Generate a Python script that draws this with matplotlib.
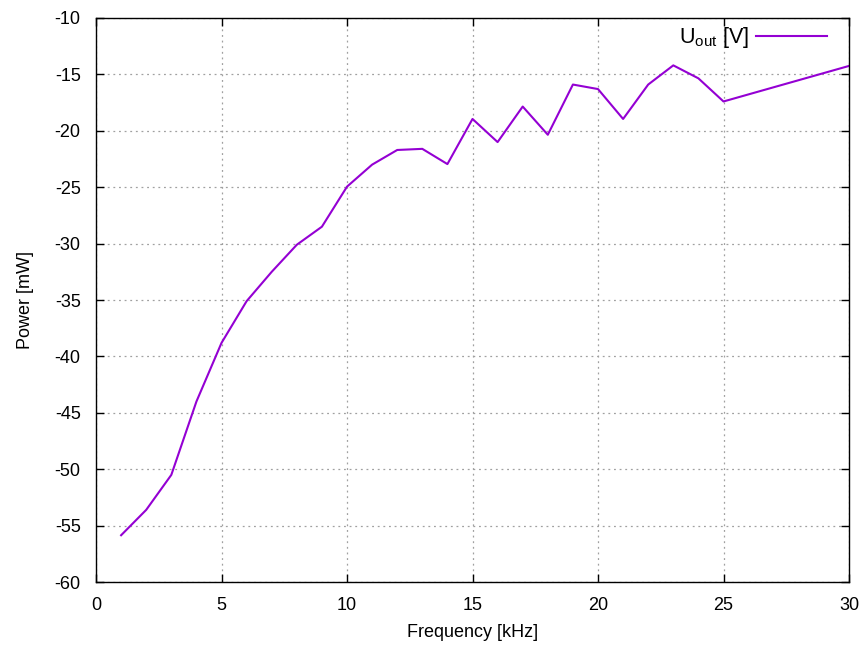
import numpy as np
import matplotlib.pyplot as plt

# frecuencia en kHz y potencia medida
freq = [1, 2, 3, 4, 5, 6, 7, 8, 9, 10, 11, 12, 13, 14, 15, 16, 17, 18, 19, 20, 21, 22, 23, 24, 25, 30]
power = [-55.85, -53.6, -50.5, -44.0, -38.8, -35.1, -32.5, -30.1, -28.5, -24.95, -23.0, -21.7, -21.6,
         -22.95, -18.95, -21.0, -17.85, -20.35, -15.9, -16.3, -18.95, -15.9, -14.2, -15.35, -17.4, -14.25]

xticks = np.arange(0, 31, 5)
yticks = np.arange(-60, -9, 5)

plt.rcParams['font.family'] = ['Liberation Sans', 'DejaVu Sans']
plt.rcParams['mathtext.fontset'] = 'custom'
plt.rcParams['mathtext.rm'] = 'Liberation Sans'
plt.rcParams['axes.unicode_minus'] = False

fig = plt.figure(figsize=(8.65, 6.54), dpi=100)
ax = fig.add_axes([0.111, 0.110, 0.8705, 0.8625])

ax.plot(freq, power, color='#9400D3', linewidth=1.5, label=r'U$_{\mathregular{out}}$ [V]')

ax.set_xlim(0, 30)
ax.set_ylim(-60, -10)
ax.set_xticks(xticks)
ax.set_yticks(yticks)
ax.tick_params(direction='in', top=True, right=True, length=6, width=1, labelsize=13)
ax.tick_params(axis='x', pad=11)
ax.tick_params(axis='y', pad=11)
ax.grid(True, linestyle=(0, (1.5, 3)), color='#a0a0a0', linewidth=0.9)
for s in ax.spines.values():
    s.set_linewidth(1.0)

ax.set_xlabel('Frequency [kHz]', fontsize=13, labelpad=7)
ax.set_ylabel('Power [mW]', fontsize=13, labelpad=15)

ax.legend(loc='upper right', bbox_to_anchor=(0.9708, 0.987), frameon=False, markerfirst=False,
          fontsize=15.5, handlelength=3.3, handletextpad=0.3, borderaxespad=0, borderpad=0)

plt.savefig('out.png')
